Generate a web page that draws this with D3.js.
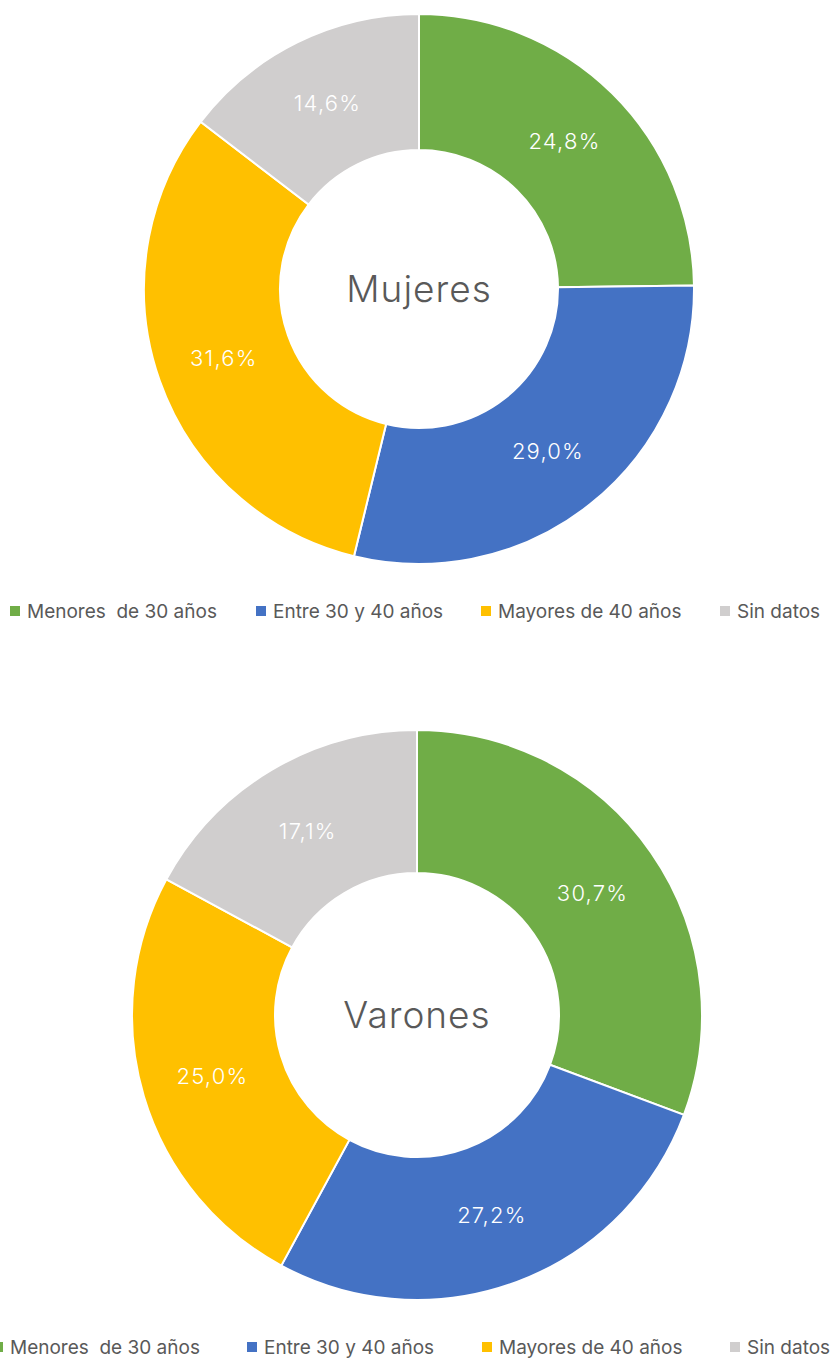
<!DOCTYPE html>
<html>
<head>
<meta charset="utf-8">
<script src="https://cdn.jsdelivr.net/npm/d3@7"></script>
<style>
  body { margin: 0; background: #fff; }
  svg text { font-family: Inter, "Noto Sans", sans-serif; }
</style>
</head>
<body>
<div id="chart"></div>
<script>
// categories and values
var categories = ["Menores  de 30 años", "Entre 30 y 40 años", "Mayores de 40 años", "Sin datos"];
var colors = ["#70AD47", "#4472C4", "#FFC000", "#D0CECE"];
var mujeres = [24.8, 29.0, 31.6, 14.6];
var varones = [30.7, 27.2, 25.0, 17.1];

var width = 837, height = 1358;

var svg = d3.select("#chart")
    .append("svg")
    .attr("width", width)
    .attr("height", height);

function drawDonut(values, title, cx, cy, outerRadius, innerRadius, legendY, legendX) {
    var g = svg.append("g")
        .attr("transform", "translate(" + cx + "," + cy + ")");

    var pie = d3.pie().sort(null).value(function (d) { return d; });
    var arc = d3.arc().innerRadius(innerRadius).outerRadius(outerRadius);
    var labelArc = d3.arc()
        .innerRadius((innerRadius + outerRadius) / 2)
        .outerRadius((innerRadius + outerRadius) / 2);

    var arcs = pie(values);

    g.selectAll("path")
        .data(arcs)
        .enter()
        .append("path")
        .attr("d", arc)
        .attr("fill", function (d, i) { return colors[i]; })
        .attr("stroke", "#fff")
        .attr("stroke-width", 2);

    // percentage labels
    g.selectAll("text.lbl")
        .data(arcs)
        .enter()
        .append("text")
        .attr("class", "lbl")
        .attr("transform", function (d) { return "translate(" + labelArc.centroid(d) + ")"; })
        .attr("text-anchor", "middle")
        .attr("dy", "0.35em")
        .attr("fill", "#fff")
        .style("font-size", "22px")
        .style("font-weight", 300)
        .style("letter-spacing", "1.2px")
        .text(function (d) { return d3.format(".1f")(d.data).replace(".", ",") + "%"; });

    // center title
    g.append("text")
        .attr("text-anchor", "middle")
        .attr("dy", "0.35em")
        .attr("fill", "#595959")
        .style("font-size", "37px")
        .style("font-weight", 300)
        .style("letter-spacing", "1px")
        .text(title);

    // legend
    var leg = svg.append("g").selectAll("g")
        .data(categories)
        .enter()
        .append("g")
        .attr("transform", function (d, i) { return "translate(" + legendX[i] + "," + legendY + ")"; });

    leg.append("rect")
        .attr("x", 0)
        .attr("y", -5)
        .attr("width", 10)
        .attr("height", 10)
        .attr("fill", function (d, i) { return colors[i]; });

    leg.append("text")
        .attr("x", 17)
        .attr("dy", "0.35em")
        .attr("fill", "#595959")
        .style("font-size", "19px")
        .style("white-space", "pre")
        .text(function (d) { return d; });
}

drawDonut(mujeres, "Mujeres", 419, 289, 275, 139, 611, [10, 256, 481, 720]);
drawDonut(varones, "Varones", 417, 1015, 285, 142, 1347, [-7, 247, 482, 730]);
</script>
</body>
</html>
